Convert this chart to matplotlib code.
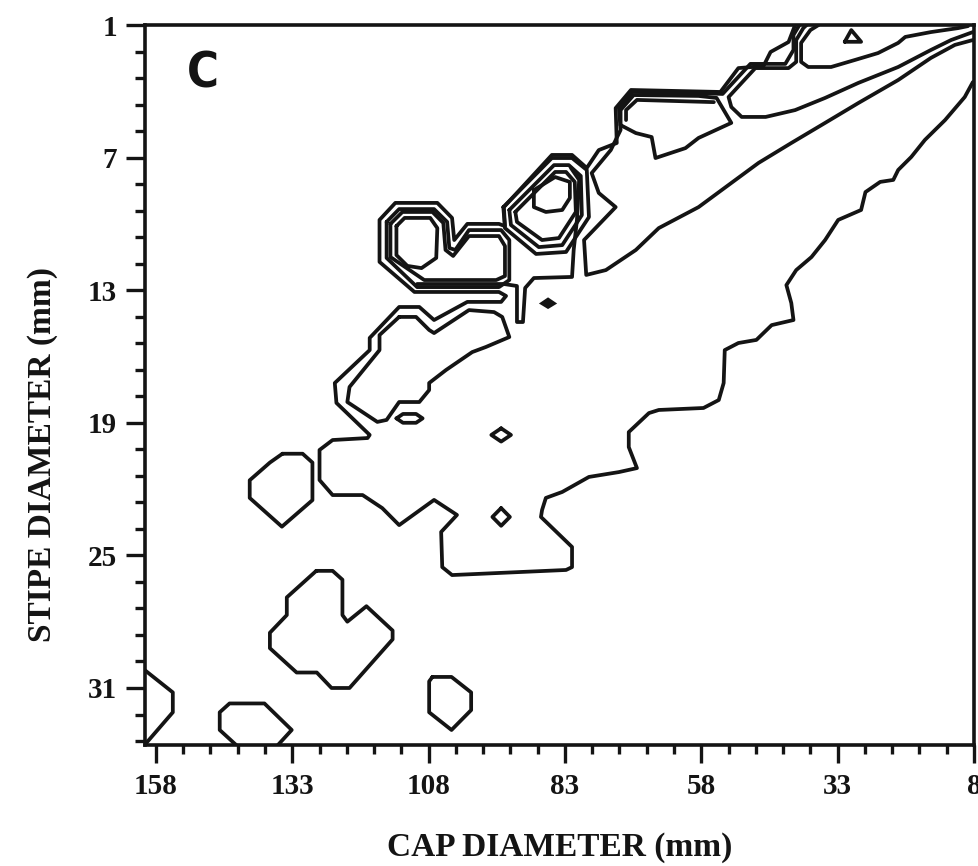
import matplotlib
matplotlib.use("Agg")
import matplotlib.pyplot as plt
from matplotlib.ticker import FixedLocator

# ---------------- data (cap diameter mm, stipe diameter mm) ----------------
cap_ticks = [158, 133, 108, 83, 58, 33, 8]
cap_minor = [153, 148, 143, 138, 128, 123, 118, 113, 103, 98, 93, 88,
             78, 73, 68, 63, 53, 48, 43, 38, 28, 23, 18, 13]
stipe_ticks = [1, 7, 13, 19, 25, 31]
stipe_minor = [2.2, 3.4, 4.6, 5.8, 8.2, 9.4, 10.6, 11.8, 14.2, 15.4, 16.6, 17.8,
               20.2, 21.4, 22.6, 23.8, 26.2, 27.4, 28.6, 29.8, 32.2, 33.4]

outer_contour = [(8.2, 3.58), (9.7, 4.26), (13.3, 5.30), (17.0, 6.20), (19.5, 6.97), (21.9, 7.56),
                 (22.8, 8.01), (25.2, 8.10), (27.9, 8.56), (28.7, 9.37), (32.9, 9.82), (35.3, 10.73),
                 (37.8, 11.50), (40.6, 12.09), (42.4, 12.77), (41.5, 13.58), (41.1, 14.35), (45.1, 14.58),
                 (47.9, 15.25), (51.2, 15.39), (53.7, 15.71), (53.9, 17.20), (54.8, 17.97), (57.6, 18.33),
                 (65.8, 18.42), (67.6, 18.56), (71.3, 19.42), (71.3, 20.10), (69.8, 21.05), (73.1, 21.23),
                 (78.6, 21.45), (83.5, 22.13), (86.5, 22.40), (87.2, 22.95), (87.4, 23.26), (81.7, 24.62),
                 (81.7, 25.53), (82.8, 25.66), (103.7, 25.89), (105.5, 25.53), (105.7, 23.94), (102.8, 23.17),
                 (107.0, 22.49), (113.4, 23.63), (116.5, 22.86), (120.1, 22.27), (125.6, 22.27), (128.0, 21.59),
                 (128.0, 20.23), (125.6, 19.78), (119.2, 19.69), (118.8, 19.55), (124.9, 18.10), (125.2, 17.20),
                 (118.8, 15.71), (118.8, 15.16), (113.4, 13.76), (109.7, 13.76), (107.0, 14.35), (100.9, 13.53),
                 (94.7, 13.53), (93.8, 13.26), (95.1, 13.08), (110.6, 13.08), (117.0, 11.72), (117.0, 9.82),
                 (114.1, 9.05), (106.4, 9.05), (103.7, 9.73), (103.3, 10.73), (100.9, 10.00), (95.1, 10.00),
                 (94.0, 10.10), (94.2, 9.24), (85.4, 6.88), (81.7, 6.88), (79.0, 7.47), (76.8, 6.66),
                 (73.5, 6.34), (73.7, 4.76), (70.9, 3.94), (54.5, 4.03), (51.2, 2.95), (46.6, 2.86),
                 (45.3, 2.22), (42.0, 1.77), (40.8, 1.00)]

inner_loop = [(113.4, 14.21), (110.3, 14.21), (107.9, 14.80), (107.0, 14.94), (100.6, 13.90), (96.0, 13.99),
              (94.5, 14.21), (93.2, 15.12), (97.5, 15.57), (100.0, 15.80), (104.8, 16.61), (107.9, 17.20),
              (107.9, 17.52), (109.7, 18.06), (113.4, 18.06), (115.7, 18.87), (117.4, 18.96), (122.9, 18.06),
              (122.5, 17.38), (117.0, 15.71), (117.0, 15.03), (113.4, 14.21)]

finger_contour = [(110.1, 12.72), (94.2, 12.72), (91.8, 12.81), (91.8, 14.44), (90.7, 14.44), (90.3, 12.90),
                  (88.7, 12.45), (81.7, 12.40), (81.4, 11.18), (80.8, 9.82), (80.4, 8.01), (81.9, 7.47)]

left_loop_2 = [(115.7, 9.91), (113.4, 9.33), (107.0, 9.33), (104.6, 9.91), (104.2, 11.09), (103.1, 11.18),
               (100.6, 10.28), (94.7, 10.28), (93.2, 10.73), (93.2, 12.54), (95.1, 12.86), (110.1, 12.86),
               (115.7, 11.54), (115.7, 9.91)]
left_loop_3 = [(115.0, 10.00), (112.8, 9.46), (107.3, 9.46), (105.3, 9.96), (104.9, 11.18), (103.5, 11.45),
               (100.6, 10.55), (95.1, 10.55), (94.0, 11.00), (94.0, 12.36), (95.6, 12.54), (108.8, 12.54),
               (115.0, 11.50), (115.0, 10.00)]
left_loop_4 = [(113.9, 10.10), (112.4, 9.73), (107.7, 9.73), (106.4, 10.19), (106.6, 11.54), (109.3, 12.00),
               (111.9, 11.90), (113.9, 11.41), (113.9, 10.10)]

mid_loop_1 = [(94.3, 9.24), (85.4, 7.02), (81.7, 7.02), (79.0, 7.56), (78.6, 9.69), (82.8, 11.27),
              (88.3, 11.36), (94.0, 10.19), (94.3, 9.24)]
mid_loop_2 = [(93.2, 9.37), (85.0, 7.34), (82.3, 7.34), (80.1, 7.83), (79.9, 9.60), (83.5, 10.96),
              (87.8, 11.05), (92.9, 10.05), (93.2, 9.37)]
mid_loop_3 = [(92.1, 9.46), (84.8, 7.65), (82.8, 7.65), (81.2, 8.10), (81.0, 9.46), (84.1, 10.64),
              (87.2, 10.73), (91.8, 9.91), (92.1, 9.46)]
mid_loop_4 = [(88.7, 8.47), (88.7, 9.24), (86.5, 9.46), (83.5, 9.37), (82.1, 8.83), (82.1, 8.10),
              (84.8, 7.88), (88.7, 8.47)]

upper_loop_2 = [(72.8, 5.53), (72.8, 4.85), (70.4, 4.17), (58.5, 4.21), (55.2, 4.30), (52.5, 5.43),
                (58.5, 6.11), (60.9, 6.57), (66.4, 7.02), (67.1, 6.07), (70.0, 5.89), (72.8, 5.53)]
upper_loop_3 = [(71.8, 5.30), (71.8, 4.85), (69.8, 4.39), (55.7, 4.49)]

ridge_contour_1 = [(9.1, 1.05), (10.9, 1.14), (15.9, 1.32), (20.6, 1.54), (21.9, 1.81), (25.6, 2.27),
                   (29.8, 2.58), (34.2, 2.90), (38.4, 2.90), (39.7, 2.67), (39.7, 1.81), (38.0, 1.23),
                   (36.5, 1.00)]
ridge_contour_2 = [(8.2, 1.32), (12.2, 1.68), (15.9, 2.13), (21.9, 2.90), (29.2, 3.62), (35.3, 4.30),
                   (40.8, 4.85), (46.2, 5.16), (50.6, 5.16), (52.5, 4.71), (53.0, 4.26), (48.1, 2.95),
                   (42.0, 2.95), (40.6, 2.67), (40.6, 1.68), (39.3, 1.14), (38.7, 1.00)]
ridge_contour_3 = [(8.2, 1.68), (11.5, 1.90), (15.9, 2.49), (21.9, 3.49), (29.2, 4.53), (35.3, 5.43),
                   (41.5, 6.34), (47.5, 7.24), (53.5, 8.33), (58.5, 9.24), (65.8, 10.19), (70.0, 11.18),
                   (75.5, 12.09), (79.1, 12.31), (79.5, 10.73), (73.7, 9.24), (76.8, 8.60), (78.1, 7.70),
                   (74.6, 6.66), (72.8, 5.75), (73.1, 4.76), (70.6, 4.03), (58.5, 4.08), (54.1, 4.12),
                   (49.0, 2.76), (42.6, 2.76), (41.1, 2.13), (41.1, 1.45), (40.0, 1.00)]

corner_blob = [(160.0, 30.2), (154.9, 31.2), (154.9, 32.1), (159.8, 33.5)]
bottom_blob = [(143.2, 33.6), (146.3, 32.9), (146.3, 32.1), (144.5, 31.7), (138.1, 31.7), (133.1, 32.9),
               (135.7, 33.6)]
heart_blob = [(128.6, 25.7), (125.6, 25.7), (123.8, 26.1), (123.8, 27.7), (122.9, 28.0), (119.4, 27.3),
              (114.6, 28.4), (114.6, 28.8), (122.5, 31.0), (125.8, 31.0), (128.5, 30.3), (132.2, 30.3),
              (137.1, 29.2), (137.1, 28.5), (134.0, 27.7), (134.0, 26.9), (128.6, 25.7)]
octagon_blob = [(134.8, 20.4), (131.1, 20.4), (129.3, 20.8), (129.3, 22.5), (134.9, 23.7), (140.8, 22.4),
                (140.8, 21.6), (137.1, 20.8), (134.8, 20.4)]
small_blob = [(107.3, 30.5), (103.8, 30.5), (100.2, 31.2), (100.2, 32.0), (103.8, 32.9), (107.9, 32.1),
              (107.9, 30.7), (107.3, 30.5)]
diamond_low = [(94.7, 22.86), (93.1, 23.26), (94.7, 23.66), (96.3, 23.26), (94.7, 22.86)]
diamond_mid = [(94.7, 19.25), (92.9, 19.55), (94.7, 19.85), (96.5, 19.55), (94.7, 19.25)]
ellipse_small = [(113.9, 18.80), (112.7, 18.60), (110.3, 18.60), (109.1, 18.80), (110.3, 19.00),
                 (112.7, 19.00), (113.9, 18.80)]
triangle_top = [(31.7, 1.76), (30.5, 1.23), (28.7, 1.76), (31.7, 1.76)]
dot_blob = [(87.3, 13.60), (86.1, 13.40), (84.9, 13.60), (86.1, 13.78), (87.3, 13.60)]

line_paths = [outer_contour, inner_loop, finger_contour, left_loop_2, left_loop_3, left_loop_4,
              mid_loop_1, mid_loop_2, mid_loop_3, mid_loop_4, upper_loop_2, upper_loop_3,
              ridge_contour_1, ridge_contour_2, ridge_contour_3, corner_blob, bottom_blob,
              heart_blob, octagon_blob, small_blob, diamond_low, diamond_mid, ellipse_small,
              triangle_top]

# ---------------- drawing ----------------
INK = "#141414"
fig = plt.figure(figsize=(9.79, 8.66), dpi=100)
ax = fig.add_axes([145 / 979, 1 - 745 / 866, 829 / 979, 720 / 866])

for path in line_paths:
    xs, ys = zip(*path)
    ax.plot(xs, ys, color=INK, lw=2.7, solid_joinstyle="round", solid_capstyle="round")
dx, dy = zip(*dot_blob)
ax.fill(dx, dy, color=INK, lw=2.0, edgecolor=INK)

ax.set_xlim(160, 8)
ax.set_ylim(33.58, 1)

ax.xaxis.set_major_locator(FixedLocator(cap_ticks))
ax.xaxis.set_minor_locator(FixedLocator(cap_minor))
ax.yaxis.set_major_locator(FixedLocator(stipe_ticks))
ax.yaxis.set_minor_locator(FixedLocator(stipe_minor))

tick_font = dict(family="Liberation Serif", weight="bold", size=21)
ax.set_xticklabels([str(v) for v in cap_ticks], **tick_font)
ax.set_yticklabels([str(v) for v in stipe_ticks], **tick_font)

ax.tick_params(axis="both", which="major", direction="out", width=2.4, color=INK, labelcolor=INK)
ax.tick_params(axis="both", which="minor", direction="out", width=2.4, color=INK)
ax.tick_params(axis="x", which="major", length=13, pad=7)
ax.tick_params(axis="x", which="minor", length=6.5)
ax.tick_params(axis="y", which="major", length=14, pad=6)
ax.tick_params(axis="y", which="minor", length=7.5)

for sp in ax.spines.values():
    sp.set_linewidth(2.6)
    sp.set_color(INK)

label_font = dict(family="Liberation Serif", weight="bold", size=24, color=INK)
ax.set_xlabel("CAP DIAMETER (mm)", **label_font)
ax.xaxis.set_label_coords(0.5, -0.121)
ax.set_ylabel("STIPE DIAMETER (mm)", rotation=90, va="center", ha="center", **label_font)
ax.yaxis.set_label_coords(-0.124, 0.403)

ax.text(0.070, 0.933, "C", transform=ax.transAxes, ha="center", va="center",
        family=["DejaVu Sans"], fontstretch="condensed", weight="bold", fontsize=35, color=INK)

fig.savefig("out.png", dpi=100)
